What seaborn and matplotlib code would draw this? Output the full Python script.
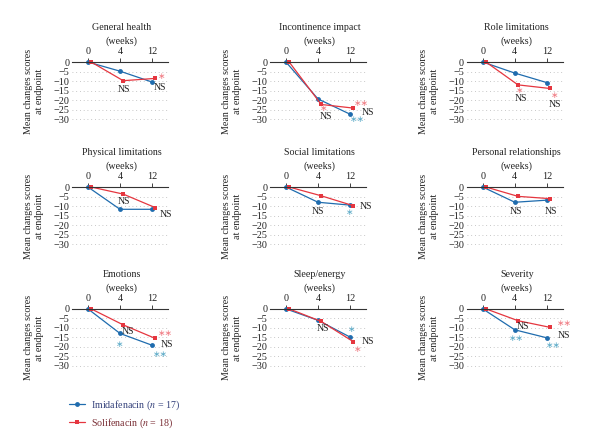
import matplotlib
matplotlib.use("Agg")
import matplotlib.pyplot as plt
import seaborn as sns
import pandas as pd

# week labels and subscale names
weeks = ["0", "4", "12"]
domains = ["General health", "Incontinence impact", "Role limitations",
           "Physical limitations", "Social limitations", "Personal relationships",
           "Emotions", "Sleep/energy", "Severity"]

# mean change scores (week 0, 4, 12)
imida = [[0, -4.8, -10.5],
         [0, -19.4, -27.4],
         [0, -5.8, -10.8],
         [0, -11.7, -11.7],
         [0, -8.0, -9.5],
         [0, -8.0, -6.9],
         [0, -12.9, -19.1],
         [0, -6.0, -14.8],
         [0, -11.0, -15.2]]
solif = [[0, -9.8, -8.6],
         [0, -22.3, -24.2],
         [0, -12.0, -13.9],
         [0, -3.7, -10.8],
         [0, -4.6, -9.8],
         [0, -4.9, -6.1],
         [0, -8.4, -15.5],
         [0, -6.6, -17.2],
         [0, -6.2, -9.7]]

lab_imida = "Imidafenacin ($n$ = 17)"
lab_solif = "Solifenacin ($n$ = 18)"

BLUE = "#1f6cae"
RED = "#e5363f"
LBLUE = "#5aa9c6"
LRED = "#f07a82"

# significance marks: (text, x, y, colour)
notes = [
    [("NS", 1.13, -14.2, "k"), ("NS", 2.24, -13.4, "k"), ("∗", 2.31, -7.7, LRED)],
    [("∗", 1.17, -24.6, LRED), ("NS", 1.24, -28.8, "k"), ("∗∗", 2.36, -21.8, LRED),
     ("NS", 2.57, -26.6, "k"), ("∗∗", 2.24, -30.0, LBLUE)],
    [("∗", 1.16, -14.9, LRED), ("NS", 1.18, -19.4, "k"), ("∗", 2.24, -17.5, LRED),
     ("NS", 2.24, -22.5, "k")],
    [("NS", 1.12, -7.5, "k"), ("NS", 2.42, -14.2, "k")],
    [("NS", 1.0, -12.9, "k"), ("NS", 2.49, -10.0, "k"), ("∗", 2.0, -13.4, LBLUE)],
    [("NS", 1.05, -13.0, "k"), ("NS", 2.13, -12.9, "k")],
    [("NS", 1.24, -11.7, "k"), ("∗", 1.0, -18.6, LBLUE), ("∗∗", 2.42, -12.9, LRED),
     ("NS", 2.47, -18.6, "k"), ("∗∗", 2.26, -23.8, LBLUE)],
    [("NS", 1.15, -10.3, "k"), ("∗", 2.06, -10.9, LBLUE), ("NS", 2.55, -17.4, "k"),
     ("∗", 2.24, -21.2, LRED)],
    [("NS", 1.24, -9.1, "k"), ("∗∗", 1.05, -15.7, LBLUE), ("∗∗", 2.56, -7.9, LRED),
     ("NS", 2.53, -13.8, "k"), ("∗∗", 2.19, -19.3, LBLUE)],
]

sns.set_style("white")
plt.rcParams['font.family'] = ['Liberation Serif', 'DejaVu Serif']
plt.rcParams['mathtext.fontset'] = 'stix'

fig = plt.figure(figsize=(6, 4.48), dpi=100)
lefts = [0.12, 0.45, 0.778]
bottoms = [0.732, 0.453, 0.181]

handles = labels = None
for i, name in enumerate(domains):
    r, c = divmod(i, 3)
    ax = fig.add_axes([lefts[c], bottoms[r], 0.16, 0.1295])

    df = pd.DataFrame({
        "pos": [0, 1, 2] + [0.1, 1.1, 2.1],
        "score": imida[i] + solif[i],
        "drug": [lab_imida] * 3 + [lab_solif] * 3,
    })
    sns.lineplot(data=df, x="pos", y="score", hue="drug", style="drug",
                 palette={lab_imida: BLUE, lab_solif: RED},
                 markers={lab_imida: "o", lab_solif: "s"}, dashes=False,
                 markersize=3.5, markeredgewidth=0, linewidth=0.9,
                 clip_on=False, ax=ax, legend=(i == 0))
    if i == 0:
        handles, labels = ax.get_legend_handles_labels()
        ax.get_legend().remove()

    ax.set_xlim(-0.5, 2.5)
    ax.set_ylim(-30.5, 0)
    ax.xaxis.tick_top()
    ax.set_xticks([0, 1, 2])
    ax.set_xticklabels(weeks)
    ax.set_yticks(list(range(0, -31, -5)))
    ax.set_yticklabels(["0"] + ["\u2212%d" % v for v in range(5, 31, 5)])
    ax.tick_params(axis="x", direction="out", length=3, width=0.6, pad=1,
                   labelsize=7.3, colors="#222222")
    ax.tick_params(axis="y", length=0, pad=2, labelsize=7.3, colors="#222222")
    ax.set_xlabel("")
    ax.grid(axis="y", linestyle=(0, (1, 3.5)), color="#b5b5b5", linewidth=0.6)
    ax.grid(axis="x", visible=False)
    for s in ["left", "right", "bottom"]:
        ax.spines[s].set_visible(False)
    ax.spines["top"].set_linewidth(0.8)
    ax.spines["top"].set_color("#333333")

    ax.set_ylabel("Mean changes scores\nat endpoint", fontsize=7.2,
                  linespacing=1.3, color="#222222")
    ax.yaxis.set_label_coords(-0.29, 0.5)

    ax.text(0.52, 1.60, name, transform=ax.transAxes, ha="center",
            va="center", fontsize=7.2, color="#222222")
    ax.text(0.52, 1.36, "(weeks)", transform=ax.transAxes, ha="center",
            va="center", fontsize=7.2, color="#222222")

    for txt, x, y, col in notes[i]:
        if txt == "NS":
            ax.text(x, y, txt, ha="center", va="center", fontsize=7,
                    color="#222222", clip_on=False)
        else:
            ax.text(x, y, txt, ha="center", va="center", fontsize=6.5,
                    color=col, family="DejaVu Sans", clip_on=False)

leg = fig.legend(handles, labels, loc="upper left",
                 bbox_to_anchor=(65 / 600, 1 - 394 / 448), frameon=False,
                 fontsize=7.2, handlelength=1.6, handletextpad=0.6,
                 labelspacing=0.5, borderaxespad=0)
leg.get_texts()[0].set_color("#33407a")
leg.get_texts()[1].set_color("#7a2e35")

fig.savefig("out.png", dpi=100)
